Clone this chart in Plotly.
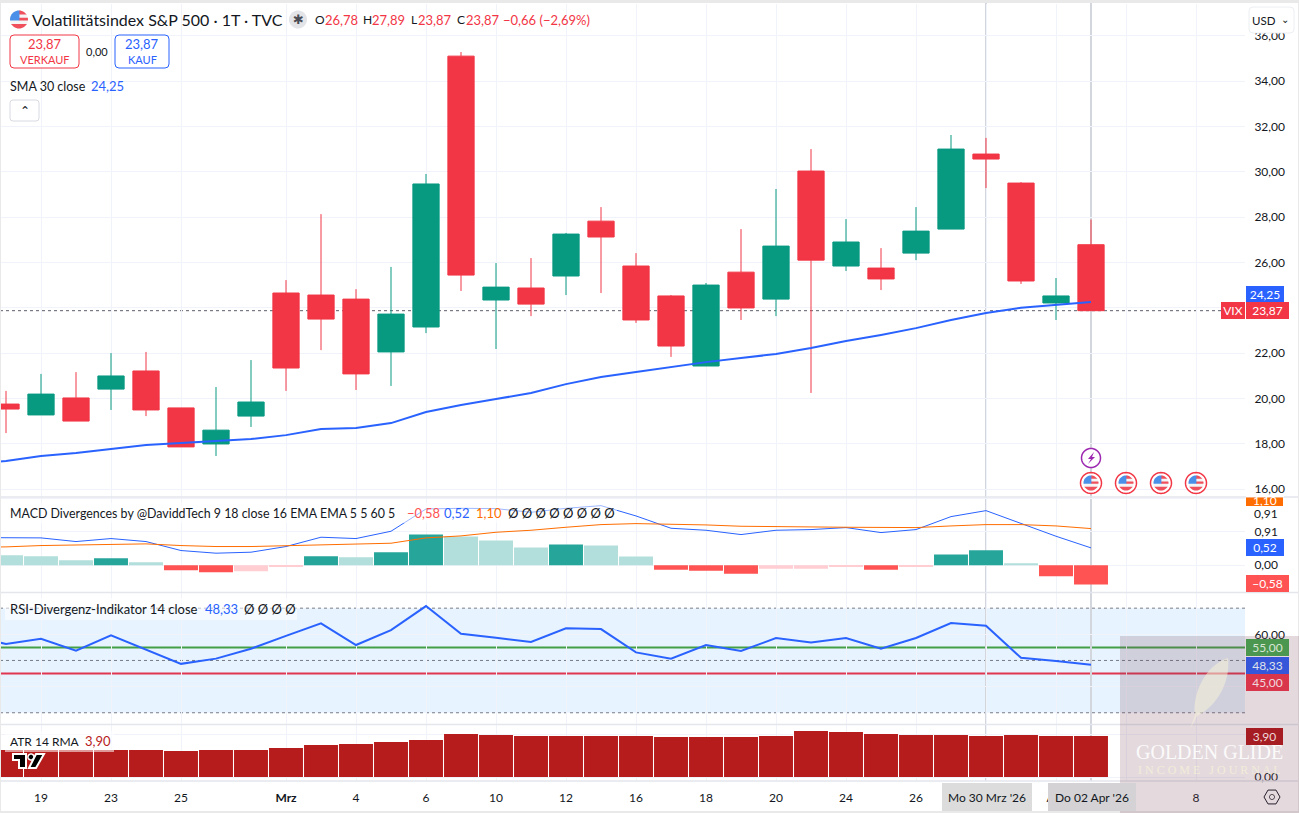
import numpy as np
import plotly.graph_objects as go
from plotly.subplots import make_subplots

W, H = 1299, 813
FONT = "Lato"

# trading days shown on the chart, 18 Feb to 2 Apr 2026
days = ["18", "19", "20", "23", "24", "25", "26", "27", "Mrz", "3", "4", "5", "6", "9", "10", "11",
        "12", "13", "16", "17", "18", "19", "20", "23", "24", "25", "26", "27", "30", "31", "Apr", "02"]

opens = [19.75, 19.27, 20.02, 20.41, 21.21, 19.58, 17.99, 19.22, 24.65, 24.56, 24.38, 22.05, 23.15, 35.10, 24.34, 24.87,
         25.40, 27.82, 25.84, 24.52, 21.43, 25.57, 24.38, 30.03, 25.84, 25.75, 26.41, 27.47, 30.78, 29.50, 24.21, 26.78]
highs = [20.33, 21.08, 21.16, 22.00, 22.05, 19.58, 20.50, 21.69, 25.22, 28.13, 24.82, 25.80, 29.90, 35.28, 25.97, 26.19,
         27.30, 28.44, 26.41, 24.56, 25.09, 27.47, 29.24, 31.00, 27.91, 26.63, 28.44, 31.62, 31.49, 29.54, 25.31, 27.89]
lows = [18.47, 19.27, 19.00, 19.49, 19.22, 17.86, 17.46, 18.74, 20.33, 22.13, 20.37, 20.55, 22.88, 24.74, 22.18, 23.63,
        24.56, 24.65, 23.33, 21.83, 21.43, 23.46, 23.63, 20.24, 25.62, 24.78, 26.10, 27.47, 29.28, 25.05, 23.46, 23.87]
closes = [19.53, 20.19, 19.00, 20.99, 19.49, 17.86, 18.60, 19.84, 21.34, 23.50, 21.08, 23.72, 29.46, 25.44, 24.91, 24.16,
          27.25, 27.12, 23.46, 22.31, 25.00, 23.99, 26.72, 26.10, 26.90, 25.27, 27.38, 31.00, 30.56, 25.18, 24.52, 23.87]

# line series start one bar earlier, that bar is just off the left edge
sma30 = [17.10, 17.24, 17.46, 17.59, 17.77, 17.94, 18.03, 18.12, 18.21, 18.38, 18.65, 18.69, 18.91, 19.40, 19.71, 19.97, 20.24,
         20.63, 20.94, 21.16, 21.38, 21.60, 21.78, 21.96, 22.22, 22.53, 22.80, 23.10, 23.46, 23.77, 24.00, 24.13, 24.25]
macd_line = [0.83, 0.83, 0.82, 0.71, 0.80, 0.71, 0.44, 0.36, 0.39, 0.56, 0.84, 0.80, 1.02, 1.69, 1.71, 1.70, 1.59,
             1.71, 1.79, 1.48, 1.11, 1.05, 0.92, 1.05, 1.07, 1.13, 0.98, 1.07, 1.46, 1.64, 1.26, 0.87, 0.52]
macd_signal = [0.54, 0.55, 0.59, 0.61, 0.63, 0.64, 0.59, 0.56, 0.56, 0.58, 0.61, 0.62, 0.66, 0.82, 0.88, 0.99, 1.05,
               1.14, 1.22, 1.25, 1.24, 1.21, 1.17, 1.15, 1.15, 1.14, 1.13, 1.13, 1.18, 1.22, 1.22, 1.18, 1.10]
rsi = [59.3, 56.3, 58.3, 53.7, 59.6, 54.3, 48.7, 50.7, 54.5, 59.4, 64.2, 55.9, 61.6, 70.8, 60.2, 58.7, 57.1,
       62.3, 62.0, 53.1, 50.7, 55.9, 53.6, 58.6, 56.9, 58.6, 54.5, 58.6, 64.3, 63.3, 51.0, 49.8, 48.33]

macd_hist = [0.30, 0.27, 0.15, 0.21, 0.09, -0.15, -0.21, -0.18, -0.03, 0.27, 0.24, 0.39, 0.92, 0.86, 0.74, 0.53,
             0.62, 0.59, 0.26, -0.14, -0.17, -0.26, -0.11, -0.11, -0.03, -0.14, -0.05, 0.32, 0.45, 0.06, -0.33, -0.58]
atr = [2.57, 2.57, 2.57, 2.57, 2.57, 2.48, 2.57, 2.57, 2.76, 3.05, 3.14, 3.33, 3.52, 4.10, 4.00, 3.90,
       3.90, 3.90, 3.90, 3.81, 3.81, 3.81, 3.90, 4.38, 4.29, 4.10, 4.00, 4.00, 3.90, 4.00, 3.90, 3.90]

# labels that sit under a tag or a date box in the chart stay empty, their gridlines remain
tick_pos = [1, 3, 5, 8, 10, 12, 14, 16, 18, 20, 22, 24, 26, 28, 30, 32, 34]
tick_text = ["19", "23", "25", "<b>Mrz</b>", "4", "6", "10", "12", "16", "18", "20", "24", "26", "", "Apr", "", "8"]
price_ticks = [16, 18, 20, 22, 24, 26, 28, 30, 32, 34, 36]
price_labels = ["16,00", "18,00", "20,00", "22,00", "", "26,00", "28,00", "30,00", "32,00", "34,00", "36,00"]

x = list(range(len(days)))
x_lines = [-1] + x

# macd histogram colour depends on the direction against the previous bar
hist_colors = []
for i, v in enumerate(macd_hist):
    rising = i > 0 and v > macd_hist[i - 1]
    falling = i > 0 and v < macd_hist[i - 1]
    if v >= 0:
        hist_colors.append("#26a69a" if rising else "#b2dfdb")
    else:
        hist_colors.append("#ff5252" if falling else "#ffcdd2")


def X(p):
    return p / W


def Y(p):
    return 1 - p / H


def dom(top, bottom):
    return [Y(bottom), Y(top)]


fig = make_subplots(rows=4, cols=1, shared_xaxes=True, vertical_spacing=0)

fig.add_trace(go.Candlestick(x=x, open=opens, high=highs, low=lows, close=closes,
                             increasing=dict(line=dict(color="#089981", width=1), fillcolor="#089981"),
                             decreasing=dict(line=dict(color="#f23645", width=1), fillcolor="#f23645")), row=1, col=1)
fig.add_trace(go.Scatter(x=x_lines, y=sma30, mode="lines", line=dict(color="#2962ff", width=2)), row=1, col=1)
fig.add_trace(go.Bar(x=x, y=macd_hist, marker=dict(color=hist_colors, line=dict(width=0))), row=2, col=1)
fig.add_trace(go.Scatter(x=x_lines, y=macd_line, mode="lines", line=dict(color="#2962ff", width=1)), row=2, col=1)
fig.add_trace(go.Scatter(x=x_lines, y=macd_signal, mode="lines", line=dict(color="#ff6d00", width=1)), row=2, col=1)
fig.add_trace(go.Scatter(x=x_lines, y=rsi, mode="lines", line=dict(color="#2962ff", width=2)), row=3, col=1)
fig.add_trace(go.Bar(x=x, y=atr, marker=dict(color="#b71c1c", line=dict(width=0))), row=4, col=1)

GRID = "#f0f3fa"
xcommon = dict(range=[-6 / 35, 1239 / 35], domain=[0, 1245 / W], tickvals=tick_pos, ticktext=tick_text,
               showgrid=True, gridcolor=GRID, gridwidth=1, zeroline=False, showline=False,
               rangeslider=dict(visible=False))
for n in ["xaxis", "xaxis2", "xaxis3"]:
    fig.layout[n].update(showticklabels=False, ticks="", **xcommon)
fig.layout["xaxis4"].update(showticklabels=True, ticks="outside", ticklen=6, tickcolor="white",
                            tickfont=dict(size=12, color="#131722"), **xcommon)

ycommon = dict(side="right", showgrid=True, gridcolor=GRID, gridwidth=1, zeroline=False, showline=False,
               ticks="outside", ticklen=6, tickcolor="white", tickfont=dict(size=12, color="#131722"))
fig.layout["yaxis"].update(domain=dom(4, 497), range=[15.65, 37.4], tickvals=price_ticks, ticktext=price_labels, **ycommon)
fig.layout["yaxis2"].update(domain=dom(497, 592), range=[-0.807, 2.05], tickvals=[0, 1, 2], ticktext=["0,00", "0,91", ""], **ycommon)
fig.layout["yaxis3"].update(domain=dom(593, 724), range=[25.7, 75.8], tickvals=[40, 60], ticktext=["", "60,00"], **ycommon)
fig.layout["yaxis4"].update(domain=dom(725, 781), range=[-0.38, 4.95], tickvals=[0, 4], ticktext=["0,00", ""], **ycommon)


def path(points):
    return "M " + " L ".join(f"{X(a):.5f} {Y(b):.5f}" for a, b in points) + " Z"


def poly(points, fill, line=None, width=0, layer="above"):
    return dict(type="path", path=path(points), xref="paper", yref="paper", layer=layer, fillcolor=fill,
                line=dict(color=line or fill, width=width))


def rect(x0, y0, x1, y1, fill, line=None, width=0, layer="above"):
    return dict(type="rect", xref="paper", yref="paper", x0=X(x0), x1=X(x1), y0=Y(y1), y1=Y(y0), layer=layer,
                fillcolor=fill, line=dict(color=line or fill, width=width))


def hline(y1, y2, color, width=1, dash="solid", xend=1245 / W):
    return dict(type="line", xref="paper", yref=y2, x0=0, x1=xend, y0=y1, y1=y1, layer="below",
                line=dict(color=color, width=width, dash=dash))


def rounded(x0, y0, x1, y1, r, line, fill="white", width=1):
    p = (f"M {X(x0 + r)} {Y(y0)} L {X(x1 - r)} {Y(y0)} Q {X(x1)} {Y(y0)} {X(x1)} {Y(y0 + r)} "
         f"L {X(x1)} {Y(y1 - r)} Q {X(x1)} {Y(y1)} {X(x1 - r)} {Y(y1)} L {X(x0 + r)} {Y(y1)} "
         f"Q {X(x0)} {Y(y1)} {X(x0)} {Y(y1 - r)} L {X(x0)} {Y(y0 + r)} Q {X(x0)} {Y(y0)} {X(x0 + r)} {Y(y0)} Z")
    return dict(type="path", path=p, xref="paper", yref="paper", layer="above", fillcolor=fill,
                line=dict(color=line, width=width))


def disc(cx, cy, r, xr=(-1, 1), yr=(-1, 1), n=40):
    # circle clipped to a box, good enough at icon size
    t = np.linspace(0, 2 * np.pi, n, endpoint=False)
    px = np.clip(np.cos(t), xr[0], xr[1])
    py = np.clip(np.sin(t), yr[0], yr[1])
    return [(cx + r * a, cy + r * b) for a, b in zip(px, py)]


def flag(cx, cy, r):
    return [
        poly(disc(cx, cy, r), "#f5f5f5"),
        poly(disc(cx, cy, r, yr=(0.5, 1)), "#f0505c"),
        poly(disc(cx, cy, r, xr=(0, 1), yr=(-1, -0.55)), "#f0505c"),
        poly(disc(cx, cy, r, xr=(0, 1), yr=(-0.2, 0.1)), "#f0505c"),
        poly(disc(cx, cy, r, xr=(-1, 0.05), yr=(-1, 0.1)), "#4a90e8"),
    ]


shapes = []
# rsi band and levels
shapes.append(dict(type="rect", xref="paper", yref="y3", x0=0, x1=1245 / W, y0=30, y1=70, layer="below",
                   fillcolor="rgba(33,150,243,0.11)", line=dict(width=0)))
for lvl in [70, 50, 30]:
    shapes.append(hline(lvl, "y3", "#787b86", 1, "dot"))
shapes.append(hline(55, "y3", "#43a047", 2))
shapes.append(hline(45, "y3", "#e0364f", 2))
shapes.append(hline(closes[-1], "y", "#5d606b", 1, "dot"))
# crosshairs
for i in [28, 31]:
    shapes.append(dict(type="line", xref="x", yref="paper", x0=i, x1=i, y0=Y(781), y1=Y(3), layer="below",
                       line=dict(color="#d3d6dc", width=2)))
# pane borders and outer frame
for p in [497, 592.5, 724.5, 781]:
    shapes.append(rect(0, p - 0.7, W, p + 0.7, "#e4e6ec"))
shapes.append(rect(0, 0, W, 3, "#e9e9e9"))
shapes.append(rect(0, 811, W, H, "#e9e9e9"))
shapes.append(rect(0, 0, 1, H, "#e9e9e9"))
shapes.append(rect(W - 1, 0, W, H, "#e9e9e9"))

# translucent strips behind the pane legends
shapes.append(rect(5, 503, 617, 523, "rgba(255,255,255,0.55)"))
shapes.append(rect(5, 598, 297, 620, "rgba(255,255,255,0.55)"))
shapes.append(rect(5, 731, 114, 752, "rgba(255,255,255,0.55)"))

# header controls
shapes.append(rounded(10, 35, 79, 68, 4, "#f23645"))
shapes.append(rounded(115, 35, 169, 68, 4, "#2962ff"))
shapes.append(rounded(10, 100, 39, 121, 3, "#d8dae0"))
shapes.append(rounded(1249, 7, 1294, 33, 4, "#eceef2"))
shapes += flag(19, 19.5, 9)
shapes.append(poly(disc(298, 19.5, 9), "#e3e4e7"))

# event icons under the candles
for ex in [1091, 1126, 1161, 1196]:
    shapes.append(poly(disc(ex, 483, 10.5), "white", "#f23645", 1.5))
    shapes += flag(ex, 483, 7.5)
shapes.append(poly(disc(1091, 458, 9.5), "white", "#9c27b0", 1.5))
shapes.append(poly([(1094, 452), (1088, 459), (1091, 459), (1088, 464), (1095, 457), (1092, 457)], "#9c27b0"))

# tv logo
shapes.append(poly([(13, 754), (26, 754), (26, 768), (19, 768), (19, 760), (13, 760)], "#000000", "white", 2))
shapes.append(poly(disc(31, 757, 3), "#000000", "white", 1.5))
shapes.append(poly([(36, 754), (44, 754), (36, 768), (29, 768)], "#000000", "white", 2))

# settings hexagon
t = np.arange(6) * np.pi / 3
shapes.append(poly([(1272 + 8 * np.cos(a), 797 + 8 * np.sin(a)) for a in t], "white", "#131722", 1))
shapes.append(poly(disc(1272, 797, 2.5), "white", "#131722", 1))

# value tag behind the clipped 1,10
shapes.append(rect(1246, 497.5, 1283, 506, "#ff6d00"))

# watermark panel and feather
shapes.append(rect(1120, 636, W, H, "rgba(120,70,90,0.2)"))
feather = (f"M {X(1228)} {Y(658)} C {X(1205)} {Y(665)} {X(1192)} {Y(695)} {X(1195)} {Y(715)} L {X(1190)} {Y(729)} "
           f"L {X(1197)} {Y(716)} C {X(1214)} {Y(708)} {X(1231)} {Y(685)} {X(1228)} {Y(658)} Z")
shapes.append(dict(type="path", path=feather, xref="paper", yref="paper", layer="above",
                   fillcolor="rgba(245,240,215,0.55)", line=dict(width=0)))


def note(px, py, text, size=12, color="#131722", anchor="left", bg=None, w=None, h=None, family=None):
    a = dict(xref="paper", yref="paper", x=X(px), y=Y(py), text=text, showarrow=False, xanchor=anchor,
             yanchor="middle", align="center" if anchor == "center" else "left", borderpad=0, borderwidth=0,
             font=dict(size=size, color=color, family=family or FONT))
    if bg:
        a["bgcolor"] = bg
    if w:
        a["width"] = w
    if h:
        a["height"] = h
    return a


RED, BLUE, ORANGE = "#f23645", "#2962ff", "#ff6d00"
notes = [
    note(32, 19.5, "Volatilitätsindex S&P 500 · 1T · TVC", 16),
    note(298, 19.5, "✱", 13, "#4a4d55", "center", family="DejaVu Sans"),
    note(315, 19.5, "O", 12), note(325, 19.5, "26,78", 13, RED),
    note(363, 19.5, "H", 12), note(372, 19.5, "27,89", 13, RED),
    note(411, 19.5, "L", 12), note(418, 19.5, "23,87", 13, RED),
    note(456.5, 19.5, "C", 12), note(465.5, 19.5, "23,87", 13, RED),
    note(503, 19.5, "−0,66 (−2,69%)", 13, RED),
    note(44.5, 44, "23,87", 13, RED, "center"),
    note(44.5, 59, "VERKAUF", 11, RED, "center"),
    note(97, 51, "0,00", 11, anchor="center"),
    note(142, 44, "23,87", 13, BLUE, "center"),
    note(142, 59, "KAUF", 11, BLUE, "center"),
    note(10, 86, "SMA 30 close", 12.5), note(91, 86, "24,25", 13, BLUE),
    note(24.5, 111, "⌃", 12, anchor="center", family="DejaVu Sans"),
    note(1264, 20, "USD", 11.5, anchor="center"),
    note(1285, 19, "⌄", 10, anchor="center", family="DejaVu Sans"),
    note(10, 513, "MACD Divergences by @DaviddTech 9 18 close 16 EMA EMA 5 5 60 5", 12.4),
    note(407, 513, "−0,58", 13, "#ff5252"), note(444, 513, "0,52", 13, BLUE), note(476, 513, "1,10", 13, ORANGE),
    note(508, 513, "Ø Ø Ø Ø Ø Ø Ø Ø", 13),
    note(10, 609, "RSI-Divergenz-Indikator 14 close", 13),
    note(205, 609, "48,33", 13, BLUE), note(244, 609, "Ø Ø Ø Ø", 13),
    note(10, 741, "ATR 14 RMA", 12), note(85, 741, "3,90", 13, "#b71c1c"),
    # price axis tags
    note(1264.5, 294, "24,25", 12, "white", "center", BLUE, 38, 17),
    note(1233, 311, "VIX", 12, "white", "center", RED, 24, 17),
    note(1267, 311, "23,87", 12, "white", "center", RED, 43, 17),
    note(1264.5, 500, "1,10", 12, "white", "center"),
    note(1264.5, 495.8, " ", 1, "white", "center", "white", 38, 2.4),
    note(1254, 513, "0,91", 12),
    note(1264.5, 547, "0,52", 12, "white", "center", BLUE, 38, 17),
    note(1267.5, 583, "−0,58", 12, "white", "center", "#ff5252", 43, 17),
    note(1267.5, 647, "55,00", 12, "#d9e6d6", "center", "#4c974f", 43, 17),
    note(1267.5, 665, "48,33", 12, "#dfe1ea", "center", "#3556d8", 43, 17),
    note(1267.5, 682, "45,00", 12, "#efd9de", "center", "#d9364c", 43, 17),
    note(1264.5, 736, "3,90", 12, "#eed8d8", "center", "#a51c22", 37, 17),
    # crosshair date boxes
    note(987, 797, "Mo 30 Mrz '26", 12, anchor="center", bg="#dcdcdc", w=90, h=28),
    note(1092, 797, "Do 02 Apr '26", 12, anchor="center", bg="#d4d2d4", w=88, h=28),
    # watermark text
    note(1209, 752, "GOLDEN GLIDE", 20, "rgba(255,255,255,0.88)", "center", family="Liberation Serif"),
    note(1209, 770, "I N C O M E   J O U R N A L", 12, "rgba(245,240,215,0.85)", "center", family="Liberation Serif"),
]

fig.update_layout(width=W, height=H, margin=dict(l=0, r=0, t=0, b=0, pad=0, autoexpand=False), showlegend=False,
                  paper_bgcolor="white", plot_bgcolor="rgba(0,0,0,0)", separators=",.",
                  font=dict(family=FONT, size=12, color="#131722"), bargap=0.03, boxgap=0.25, boxgroupgap=0,
                  shapes=shapes, annotations=notes)

fig.write_html("out.html", config=dict(displayModeBar=False), post_script="document.body.style.margin='0';")
